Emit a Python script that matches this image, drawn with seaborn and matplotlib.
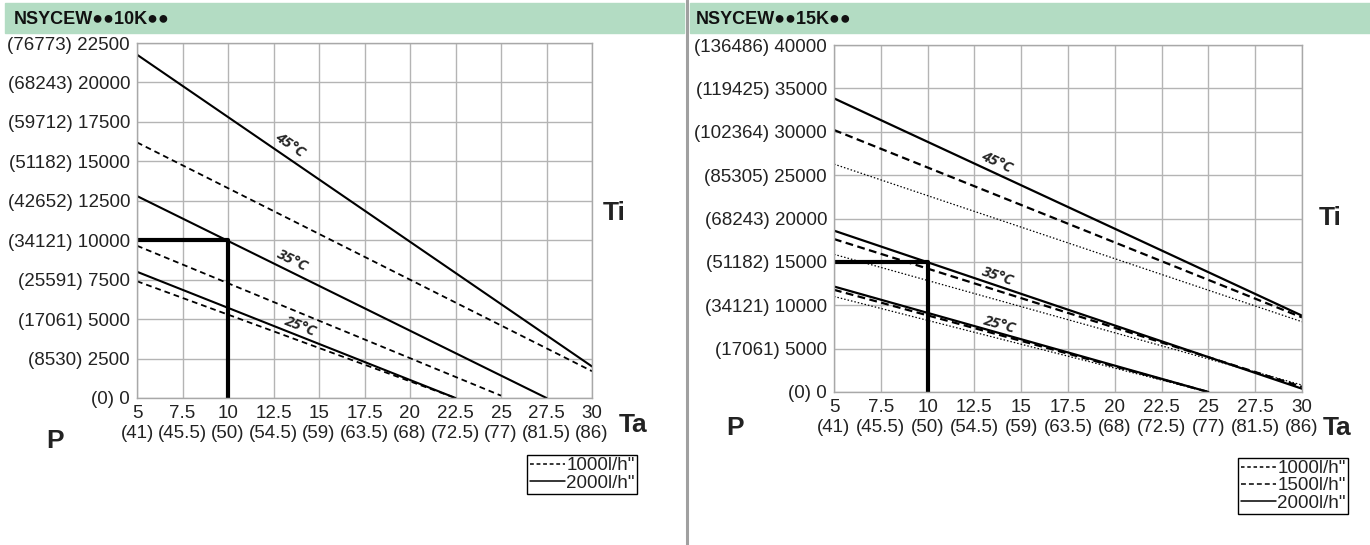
import numpy as np
import pandas as pd
import matplotlib
matplotlib.use("Agg")
import matplotlib.pyplot as plt
import seaborn as sns
from matplotlib.patches import Rectangle
from matplotlib.lines import Line2D

sns.set_style("white")
plt.rcParams["font.family"] = ["Liberation Sans", "DejaVu Sans"]

# ---------------- data ----------------
x_ticks = [5, 7.5, 10, 12.5, 15, 17.5, 20, 22.5, 25, 27.5, 30]
x_fahr = ["41", "45.5", "50", "54.5", "59", "63.5", "68", "72.5", "77", "81.5", "86"]

left_title = "NSYCEW\u25cf\u25cf10K\u25cf\u25cf"
left_yticks = [0, 2500, 5000, 7500, 10000, 12500, 15000, 17500, 20000, 22500]
left_ybtu = [0, 8530, 17061, 25591, 34121, 42652, 51182, 59712, 68243, 76773]
left_temp = ["45°C", "45°C", "35°C", "35°C", "25°C", "25°C"]
left_flow = ["2000", "1000", "2000", "1000", "2000", "1000"]
left_x0 = [5, 5, 5, 5, 5, 5]
left_x1 = [30, 30, 27.5, 25, 22.5, 22.5]
left_y0 = [21760, 16200, 12800, 9650, 8000, 7400]
left_y1 = [2000, 1700, 0, 150, 0, 0]
left_ref_x = [5, 10, 10]
left_ref_y = [10000, 10000, 0]
left_lbl_x = [13.4, 13.55, 13.96]
left_lbl_y = [16050, 8737, 4526]

right_title = "NSYCEW\u25cf\u25cf15K\u25cf\u25cf"
right_yticks = [0, 5000, 10000, 15000, 20000, 25000, 30000, 35000, 40000]
right_ybtu = [0, 17061, 34121, 51182, 68243, 85305, 102364, 119425, 136486]
right_temp = ["45°C"] * 3 + ["35°C"] * 3 + ["25°C"] * 3
right_flow = ["2000", "1500", "1000"] * 3
right_x0 = [5] * 9
right_x1 = [30, 30, 30, 30, 30, 30, 25, 25, 25]
right_y0 = [33850, 30200, 26270, 18600, 17630, 15870, 12160, 11780, 11010]
right_y1 = [8800, 8600, 8100, 380, 600, 800, 0, 0, 0]
right_ref_x = [5, 10, 10]
right_ref_y = [15000, 15000, 0]
right_lbl_x = [13.67, 13.72, 13.84]
right_lbl_y = [26540, 13308, 7763]

labels_temp = ["45°C", "35°C", "25°C"]


def make_df(temp, flow, x0, x1, y0, y1):
    rows = []
    for i in range(len(temp)):
        rows.append(dict(line=i, temp=temp[i], flow=flow[i], Ta=x0[i], P=y0[i]))
        rows.append(dict(line=i, temp=temp[i], flow=flow[i], Ta=x1[i], P=y1[i]))
    return pd.DataFrame(rows)


left_df = make_df(left_temp, left_flow, left_x0, left_x1, left_y0, left_y1)
right_df = make_df(right_temp, right_flow, right_x0, right_x1, right_y0, right_y1)

# ---------------- styles ----------------
styles = {
    "left": {
        "2000": dict(ls="-", lw=1.5, lg="-"),
        "1000": dict(ls=(0, (3.2, 2.2)), lw=1.3, lg=(0, (2.5, 1.8))),
    },
    "right": {
        "2000": dict(ls="-", lw=1.6, lg="-"),
        "1500": dict(ls=(0, (3.5, 2.0)), lw=1.6, lg=(0, (3.2, 2.0))),
        "1000": dict(ls=(0, (1.2, 1.6)), lw=0.9, lg=(0, (2.3, 1.8))),
    },
}

W, H = 1370, 545
fig = plt.figure(figsize=(W / 100, H / 100), dpi=100)
fig.patch.set_facecolor("white")

green = "#b3dcc3"
fig.patches.append(Rectangle((5 / W, 1 - 33 / H), (684 - 5) / W, 30 / H,
                             transform=fig.transFigure, color=green, zorder=0))
fig.patches.append(Rectangle((690 / W, 1 - 33 / H), (W - 690) / W, 30 / H,
                             transform=fig.transFigure, color=green, zorder=0))
fig.add_artist(Line2D([687 / W, 687 / W], [0, 1], transform=fig.transFigure,
                      color="#a0a0a0", lw=2.2))

title_kw = dict(fontsize=13, fontweight="bold", va="center", ha="left", color="#111")
fig.text(14 / W, 1 - 19 / H, left_title, **title_kw)
fig.text(696 / W, 1 - 19 / H, right_title, **title_kw)

TICK_FS = 13.5


def setup_axes(rect, yticks, ybtu, ymax):
    ax = fig.add_axes(rect)
    ax.set_xlim(5, 30)
    ax.set_ylim(0, ymax)
    ax.set_xticks(x_ticks)
    ax.set_xticklabels([f"{v:g}\n({f})" for v, f in zip(x_ticks, x_fahr)],
                       fontsize=TICK_FS, linespacing=1.25, color="#222")
    ax.set_yticks(yticks)
    ax.set_yticklabels([f"({b}) {a}" for a, b in zip(yticks, ybtu)],
                       fontsize=TICK_FS, color="#222")
    ax.tick_params(length=0, pad=5)
    ax.grid(True, color="#b4b4b4", lw=1.0)
    for s in ax.spines.values():
        s.set_color("#a8a8a8")
        s.set_linewidth(1.0)
    ax.set_xlabel("")
    ax.set_ylabel("")
    return ax


def draw(ax, df, st, ref_x, ref_y, lbl_x, lbl_y, temps, ymax):
    for flow, kw in st.items():
        sub = df[df["flow"] == flow]
        sns.lineplot(data=sub, x="Ta", y="P", units="line", estimator=None,
                     color="black", linestyle=kw["ls"], linewidth=kw["lw"],
                     legend=False, ax=ax, sort=False)
    ref = pd.DataFrame({"Ta": ref_x, "P": ref_y})
    sns.lineplot(data=ref, x="Ta", y="P", sort=False, estimator=None,
                 color="black", linewidth=3.0, ax=ax, legend=False)
    ax.set_xlim(5, 30)
    ax.set_ylim(0, ymax)
    ax.set_xlabel("")
    ax.set_ylabel("")
    for t, lx, ly in zip(temps, lbl_x, lbl_y):
        row = df[(df["temp"] == t) & (df["flow"] == "2000")]
        p = ax.transData.transform(row[["Ta", "P"]].values)
        ang = np.degrees(np.arctan2(p[1, 1] - p[0, 1], p[1, 0] - p[0, 0]))
        ax.text(lx, ly, t, rotation=ang, rotation_mode="anchor",
                ha="center", va="center", fontsize=11, fontstyle="italic",
                fontweight="bold", family=["Open Sans", "DejaVu Sans"])


axL = setup_axes([137 / W, 1 - 398 / H, 455 / W, 355 / H],
                 left_yticks, left_ybtu, 22500)
draw(axL, left_df, styles["left"], left_ref_x, left_ref_y,
     left_lbl_x, left_lbl_y, labels_temp, 22500)

axR = setup_axes([834 / W, 1 - 392 / H, 468 / W, 347 / H],
                 right_yticks, right_ybtu, 40000)
draw(axR, right_df, styles["right"], right_ref_x, right_ref_y,
     right_lbl_x, right_lbl_y, labels_temp, 40000)

big = dict(fontsize=19, fontweight="bold", color="#222", ha="center", va="center")
fig.text(614 / W, 1 - 213 / H, "Ti", **big)
fig.text(633 / W, 1 - 425 / H, "Ta", **big)
fig.text(55 / W, 1 - 441 / H, "P", **big)
fig.text(1330 / W, 1 - 218 / H, "Ti", **big)
fig.text(1337 / W, 1 - 428 / H, "Ta", **big)
fig.text(735 / W, 1 - 428 / H, "P", **big)


def legend(flows, anchor, st):
    handles = [Line2D([], [], color="black", linestyle=st[f]["lg"],
                      linewidth=1.1) for f in flows]
    lg = fig.legend(handles, [f'{f}l/h"' for f in flows], loc="upper right",
                    bbox_to_anchor=anchor, bbox_transform=fig.transFigure,
                    fontsize=13.5, frameon=True, fancybox=False,
                    handlelength=1.9, handletextpad=0.05, labelspacing=0.0,
                    borderpad=0.12, borderaxespad=0, framealpha=1)
    lg.get_frame().set_edgecolor("black")
    lg.get_frame().set_linewidth(1.0)
    for t in lg.get_texts():
        t.set_color("#222")


legend(["1000", "2000"], (637 / W, 1 - 455 / H), styles["left"])
legend(["1000", "1500", "2000"], (1348 / W, 1 - 458 / H), styles["right"])

fig.savefig("out.png", dpi=100, facecolor="white")
